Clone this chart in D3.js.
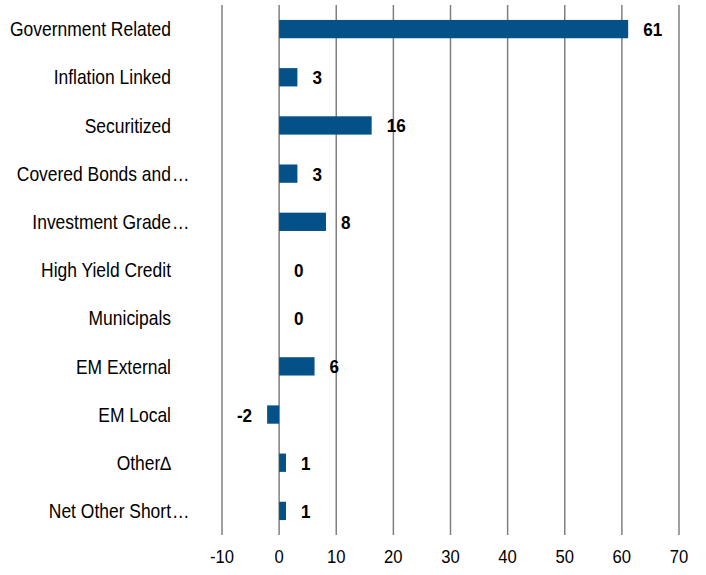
<!DOCTYPE html>
<html><head><meta charset="utf-8">
<script src="https://cdn.jsdelivr.net/npm/d3@7"></script>
<style>body{margin:0;background:#fff}svg{display:block}</style>
</head><body>
<svg id="c" width="706" height="575"></svg>
<script>
const categories = ["Government Related","Inflation Linked","Securitized","Covered Bonds and…","Investment Grade…","High Yield Credit","Municipals","EM External","EM Local","Other∆","Net Other Short…"];
const values = [61,3,16,3,8,0,0,6,-2,1,1];
const barLengths = [61.1,3.2,16.2,3.2,8.2,0,0,6.2,-2.1,1.2,1.2];
const tickValues = [-10,0,10,20,30,40,50,60,70];

const font = "'Liberation Sans',Arial,sans-serif";
const sx = 0.9;
const svg = d3.select("#c");
const x = d3.scaleLinear().domain([-10,70]).range([222,679]);
const y = d3.scaleBand().domain(categories).range([5,535]).paddingInner(0.62).paddingOuter(0.31);

// gridlines
svg.append("g").selectAll("line").data(tickValues).join("line")
  .attr("x1",d=>x(d)).attr("x2",d=>x(d)).attr("y1",5).attr("y2",535)
  .attr("stroke","#7f7f7f").attr("stroke-width",1.5);

// tick labels
svg.append("g").attr("transform",`scale(${sx},1)`).selectAll("text").data(tickValues).join("text")
  .attr("x",d=>x(d)/sx).attr("y",563).attr("text-anchor","middle")
  .attr("font-family",font).attr("font-size",18.5).attr("fill","#000").text(d=>d);

// bars
svg.append("g").selectAll("rect").data(categories).join("rect")
  .attr("x",(d,i)=>x(Math.min(0,barLengths[i])))
  .attr("width",(d,i)=>Math.abs(x(barLengths[i])-x(0)))
  .attr("y",d=>y(d)).attr("height",y.bandwidth())
  .attr("fill","#045187");

// value labels
svg.append("g").attr("transform",`scale(${sx},1)`).selectAll("text").data(categories).join("text")
  .attr("x",(d,i)=>(barLengths[i]<0 ? x(barLengths[i])-15 : x(barLengths[i])+15)/sx)
  .attr("y",d=>y(d)+y.bandwidth()/2).attr("dy","0.37em")
  .attr("text-anchor",(d,i)=>values[i]<0?"end":"start")
  .attr("font-family",font).attr("font-size",19).attr("font-weight","bold").attr("fill","#000")
  .text((d,i)=>values[i]);

// category labels
const cl = svg.append("g").attr("transform",`scale(${sx},1)`).selectAll("g").data(categories).join("g");
cl.append("text")
  .attr("x",171/sx).attr("y",d=>y(d)+y.bandwidth()/2).attr("dy","0.37em")
  .attr("text-anchor","end").attr("font-family",font).attr("font-size",19.4).attr("fill","#000")
  .text(d=>d.replace("…",""));
cl.filter(d=>d.endsWith("…")).append("text")
  .attr("x",172/sx).attr("y",d=>y(d)+y.bandwidth()/2).attr("dy","0.37em")
  .attr("font-family",font).attr("font-size",19.4).attr("fill","#000").text("…");
</script>
</body></html>
